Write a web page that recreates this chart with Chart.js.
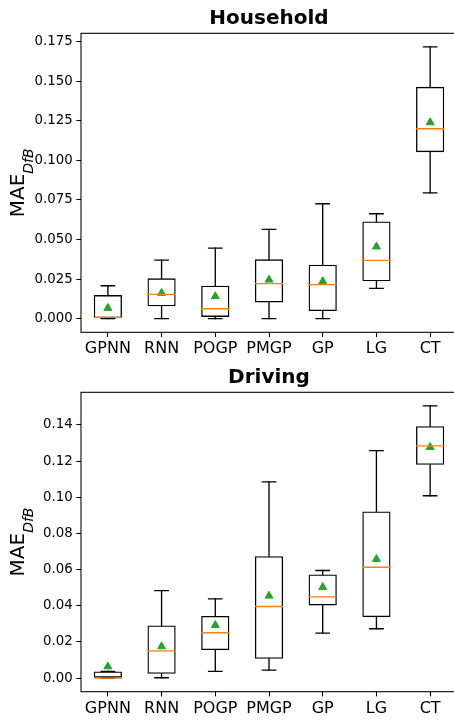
<!DOCTYPE html>
<html>
<head>
<meta charset="utf-8">
<script src="https://cdn.jsdelivr.net/npm/chart.js@4.4.1/dist/chart.umd.min.js"></script>
<style>
  html, body { margin: 0; padding: 0; background: #fff; overflow: hidden; }
  canvas { display: block; }
</style>
</head>
<body>
<canvas id="household" width="470" height="360"></canvas>
<canvas id="driving" width="470" height="360"></canvas>
<script>
'use strict';

/* ── DATA ── */
const CATEGORIES = ['GPNN', 'RNN', 'POGP', 'PMGP', 'GP', 'LG', 'CT'];

const HOUSEHOLD_LOW    = [0,      0,      0,      0,      0,      0.0192, 0.0795];
const HOUSEHOLD_Q1     = [0,      0.0078, 0.0011, 0.0103, 0.0048, 0.0236, 0.1052];
const HOUSEHOLD_MEDIAN = [0.0008, 0.0154, 0.0063, 0.0221, 0.0215, 0.0368, 0.1200];
const HOUSEHOLD_Q3     = [0.0149, 0.0255, 0.0208, 0.0375, 0.0341, 0.0614, 0.1465];
const HOUSEHOLD_HIGH   = [0.0208, 0.0370, 0.0446, 0.0564, 0.0726, 0.0663, 0.1717];
const HOUSEHOLD_MEAN   = [0.0067, 0.0162, 0.0141, 0.0246, 0.0236, 0.0455, 0.1240];
const HOUSEHOLD_TICKS  = [0, 0.025, 0.05, 0.075, 0.1, 0.125, 0.15, 0.175];

const DRIVING_LOW    = [0,      0.0002, 0.0037, 0.0044, 0.0249, 0.0273, 0.1008];
const DRIVING_Q1     = [0,      0.0024, 0.0155, 0.0107, 0.0402, 0.0337, 0.1179];
const DRIVING_MEDIAN = [0,      0.0151, 0.0251, 0.0396, 0.0449, 0.0613, 0.1284];
const DRIVING_Q3     = [0.0037, 0.0291, 0.0344, 0.0674, 0.0573, 0.0921, 0.1393];
const DRIVING_HIGH   = [0.0037, 0.0484, 0.0438, 0.1085, 0.0595, 0.1258, 0.1505];
const DRIVING_MEAN   = [0.0064, 0.0175, 0.0293, 0.0455, 0.0503, 0.0658, 0.1277];
const DRIVING_TICKS  = [0, 0.02, 0.04, 0.06, 0.08, 0.10, 0.12, 0.14];

/* ── STYLE ── */
const FONT   = "'DejaVu Sans', sans-serif";
const BLACK  = '#000';
const ORANGE = '#ff7f0e';
const GREEN  = '#2ca02c';
const LW     = 1.33;   // box / whisker line width
const AXIS_W = 1.07;   // spine width

/* ── WHISKERS, CAPS, MEDIANS, FRAME, Y LABEL ── */
const boxParts = s => ({
  id: 'boxParts',
  afterDatasetDraw(chart, args) {
    if (args.index !== 0) return;
    const { ctx, chartArea, scales: { x, y } } = chart;
    ctx.save();
    ctx.beginPath();
    ctx.rect(chartArea.left, chartArea.top, chartArea.width, chartArea.height);
    ctx.clip();
    ctx.lineWidth = LW;
    ctx.lineCap = 'square';

    const seg = (x0, y0, x1, y1, color) => {
      ctx.strokeStyle = color;
      ctx.beginPath();
      ctx.moveTo(x0, y0);
      ctx.lineTo(x1, y1);
      ctx.stroke();
    };

    CATEGORIES.forEach((_, i) => {
      const pos  = i + 1;
      const cx   = x.getPixelForValue(pos);
      const boxH = x.getPixelForValue(pos + 0.25) - cx;
      const capH = x.getPixelForValue(pos + 0.125) - cx;
      const pLow = y.getPixelForValue(s.low[i]);
      const pQ1  = y.getPixelForValue(s.q1[i]);
      const pQ3  = y.getPixelForValue(s.q3[i]);
      const pHi  = y.getPixelForValue(s.high[i]);
      const pMed = y.getPixelForValue(s.median[i]);

      seg(cx, pQ1, cx, pLow, BLACK);
      seg(cx, pQ3, cx, pHi, BLACK);
      seg(cx - capH, pLow, cx + capH, pLow, BLACK);
      seg(cx - capH, pHi, cx + capH, pHi, BLACK);
      seg(cx - boxH, pMed, cx + boxH, pMed, ORANGE);
    });
    ctx.restore();
  },
  afterDraw(chart) {
    const { ctx, chartArea } = chart;
    ctx.save();

    /* frame */
    ctx.strokeStyle = BLACK;
    ctx.lineWidth = AXIS_W;
    ctx.strokeRect(chartArea.left, chartArea.top, chartArea.width, chartArea.height);

    /* y label: MAE with DfB subscript */
    const cy = (chartArea.top + chartArea.bottom) / 2;
    const mainFont = '20px ' + FONT;
    const subFont  = 'italic 14px ' + FONT;
    ctx.font = mainFont;
    const w1 = ctx.measureText('MAE').width;
    ctx.font = subFont;
    const w2 = ctx.measureText('DfB').width;

    ctx.translate(24, cy);
    ctx.rotate(-Math.PI / 2);
    ctx.fillStyle = BLACK;
    ctx.textAlign = 'left';
    ctx.textBaseline = 'alphabetic';
    ctx.font = mainFont;
    ctx.fillText('MAE', -(w1 + w2) / 2, 0);
    ctx.font = subFont;
    ctx.fillText('DfB', -(w1 + w2) / 2 + w1, 8.5);
    ctx.restore();
  },
});

/* ── CHART ── */
function buildChart(id, s) {
  return new Chart(document.getElementById(id), {
    type: 'bar',
    data: {
      datasets: [
        {
          type: 'bar',
          data: CATEGORIES.map((_, i) => ({ x: i + 1, y: [s.q1[i], s.q3[i]] })),
          backgroundColor: 'rgba(0,0,0,0)',
          borderColor: BLACK,
          borderWidth: LW,
          borderSkipped: false,
          barPercentage: 0.525,
          categoryPercentage: 1,
        },
        {
          type: 'scatter',
          data: CATEGORIES.map((_, i) => ({ x: i + 1, y: s.mean[i] })),
          pointStyle: 'triangle',
          pointRadius: 4.6,
          backgroundColor: GREEN,
          borderColor: GREEN,
          borderWidth: 1,
        },
      ],
    },
    options: {
      responsive: false,
      animation: false,
      events: [],
      layout: { padding: { left: 0, right: 13, top: 0, bottom: 0 } },
      plugins: {
        legend: { display: false },
        tooltip: { enabled: false },
        title: {
          display: true,
          text: s.title,
          color: BLACK,
          fullSize: false,
          font: { family: FONT, size: 20, weight: 'bold', lineHeight: 1.2 },
          padding: { top: s.titleTop, bottom: s.titleBottom },
        },
      },
      scales: {
        x: {
          type: 'linear',
          min: 0.5,
          max: 7.5,
          offset: false,
          afterBuildTicks: sc => { sc.ticks = CATEGORIES.map((_, i) => ({ value: i + 1 })); },
          afterFit: sc => { sc.height = s.xAxisHeight; },
          grid: { offset: false, drawOnChartArea: false, drawTicks: true, tickLength: 4.7, tickColor: BLACK, tickWidth: AXIS_W },
          border: { display: false },
          ticks: {
            color: BLACK,
            font: { family: FONT, size: 16 },
            padding: 2.4,
            maxRotation: 0,
            autoSkip: false,
            callback: v => CATEGORIES[Math.round(v) - 1],
          },
        },
        y: {
          min: s.yMin,
          max: s.yMax,
          afterBuildTicks: sc => { sc.ticks = s.ticks.map(v => ({ value: v })); },
          afterFit: sc => { sc.width = 81; },
          grid: { drawOnChartArea: false, drawTicks: true, tickLength: 4.7, tickColor: BLACK, tickWidth: AXIS_W },
          border: { display: false },
          ticks: {
            color: BLACK,
            font: { family: FONT, size: 13.3 },
            padding: 3.7,
            autoSkip: false,
            callback: v => v.toFixed(s.decimals),
          },
        },
      },
    },
    plugins: [boxParts(s)],
  });
}

/* ── INIT ── */
buildChart('household', {
  title: 'Household',
  low: HOUSEHOLD_LOW, q1: HOUSEHOLD_Q1, median: HOUSEHOLD_MEDIAN,
  q3: HOUSEHOLD_Q3, high: HOUSEHOLD_HIGH, mean: HOUSEHOLD_MEAN,
  ticks: HOUSEHOLD_TICKS, decimals: 3,
  yMin: -0.0086, yMax: 0.1803,
  titleTop: 7.1, titleBottom: 2.2, xAxisHeight: 27.7,
});

buildChart('driving', {
  title: 'Driving',
  low: DRIVING_LOW, q1: DRIVING_Q1, median: DRIVING_MEDIAN,
  q3: DRIVING_Q3, high: DRIVING_HIGH, mean: DRIVING_MEAN,
  ticks: DRIVING_TICKS, decimals: 2,
  yMin: -0.0075, yMax: 0.1580,
  titleTop: 5.7, titleBottom: 2.6, xAxisHeight: 28.3,
});
</script>
</body>
</html>
